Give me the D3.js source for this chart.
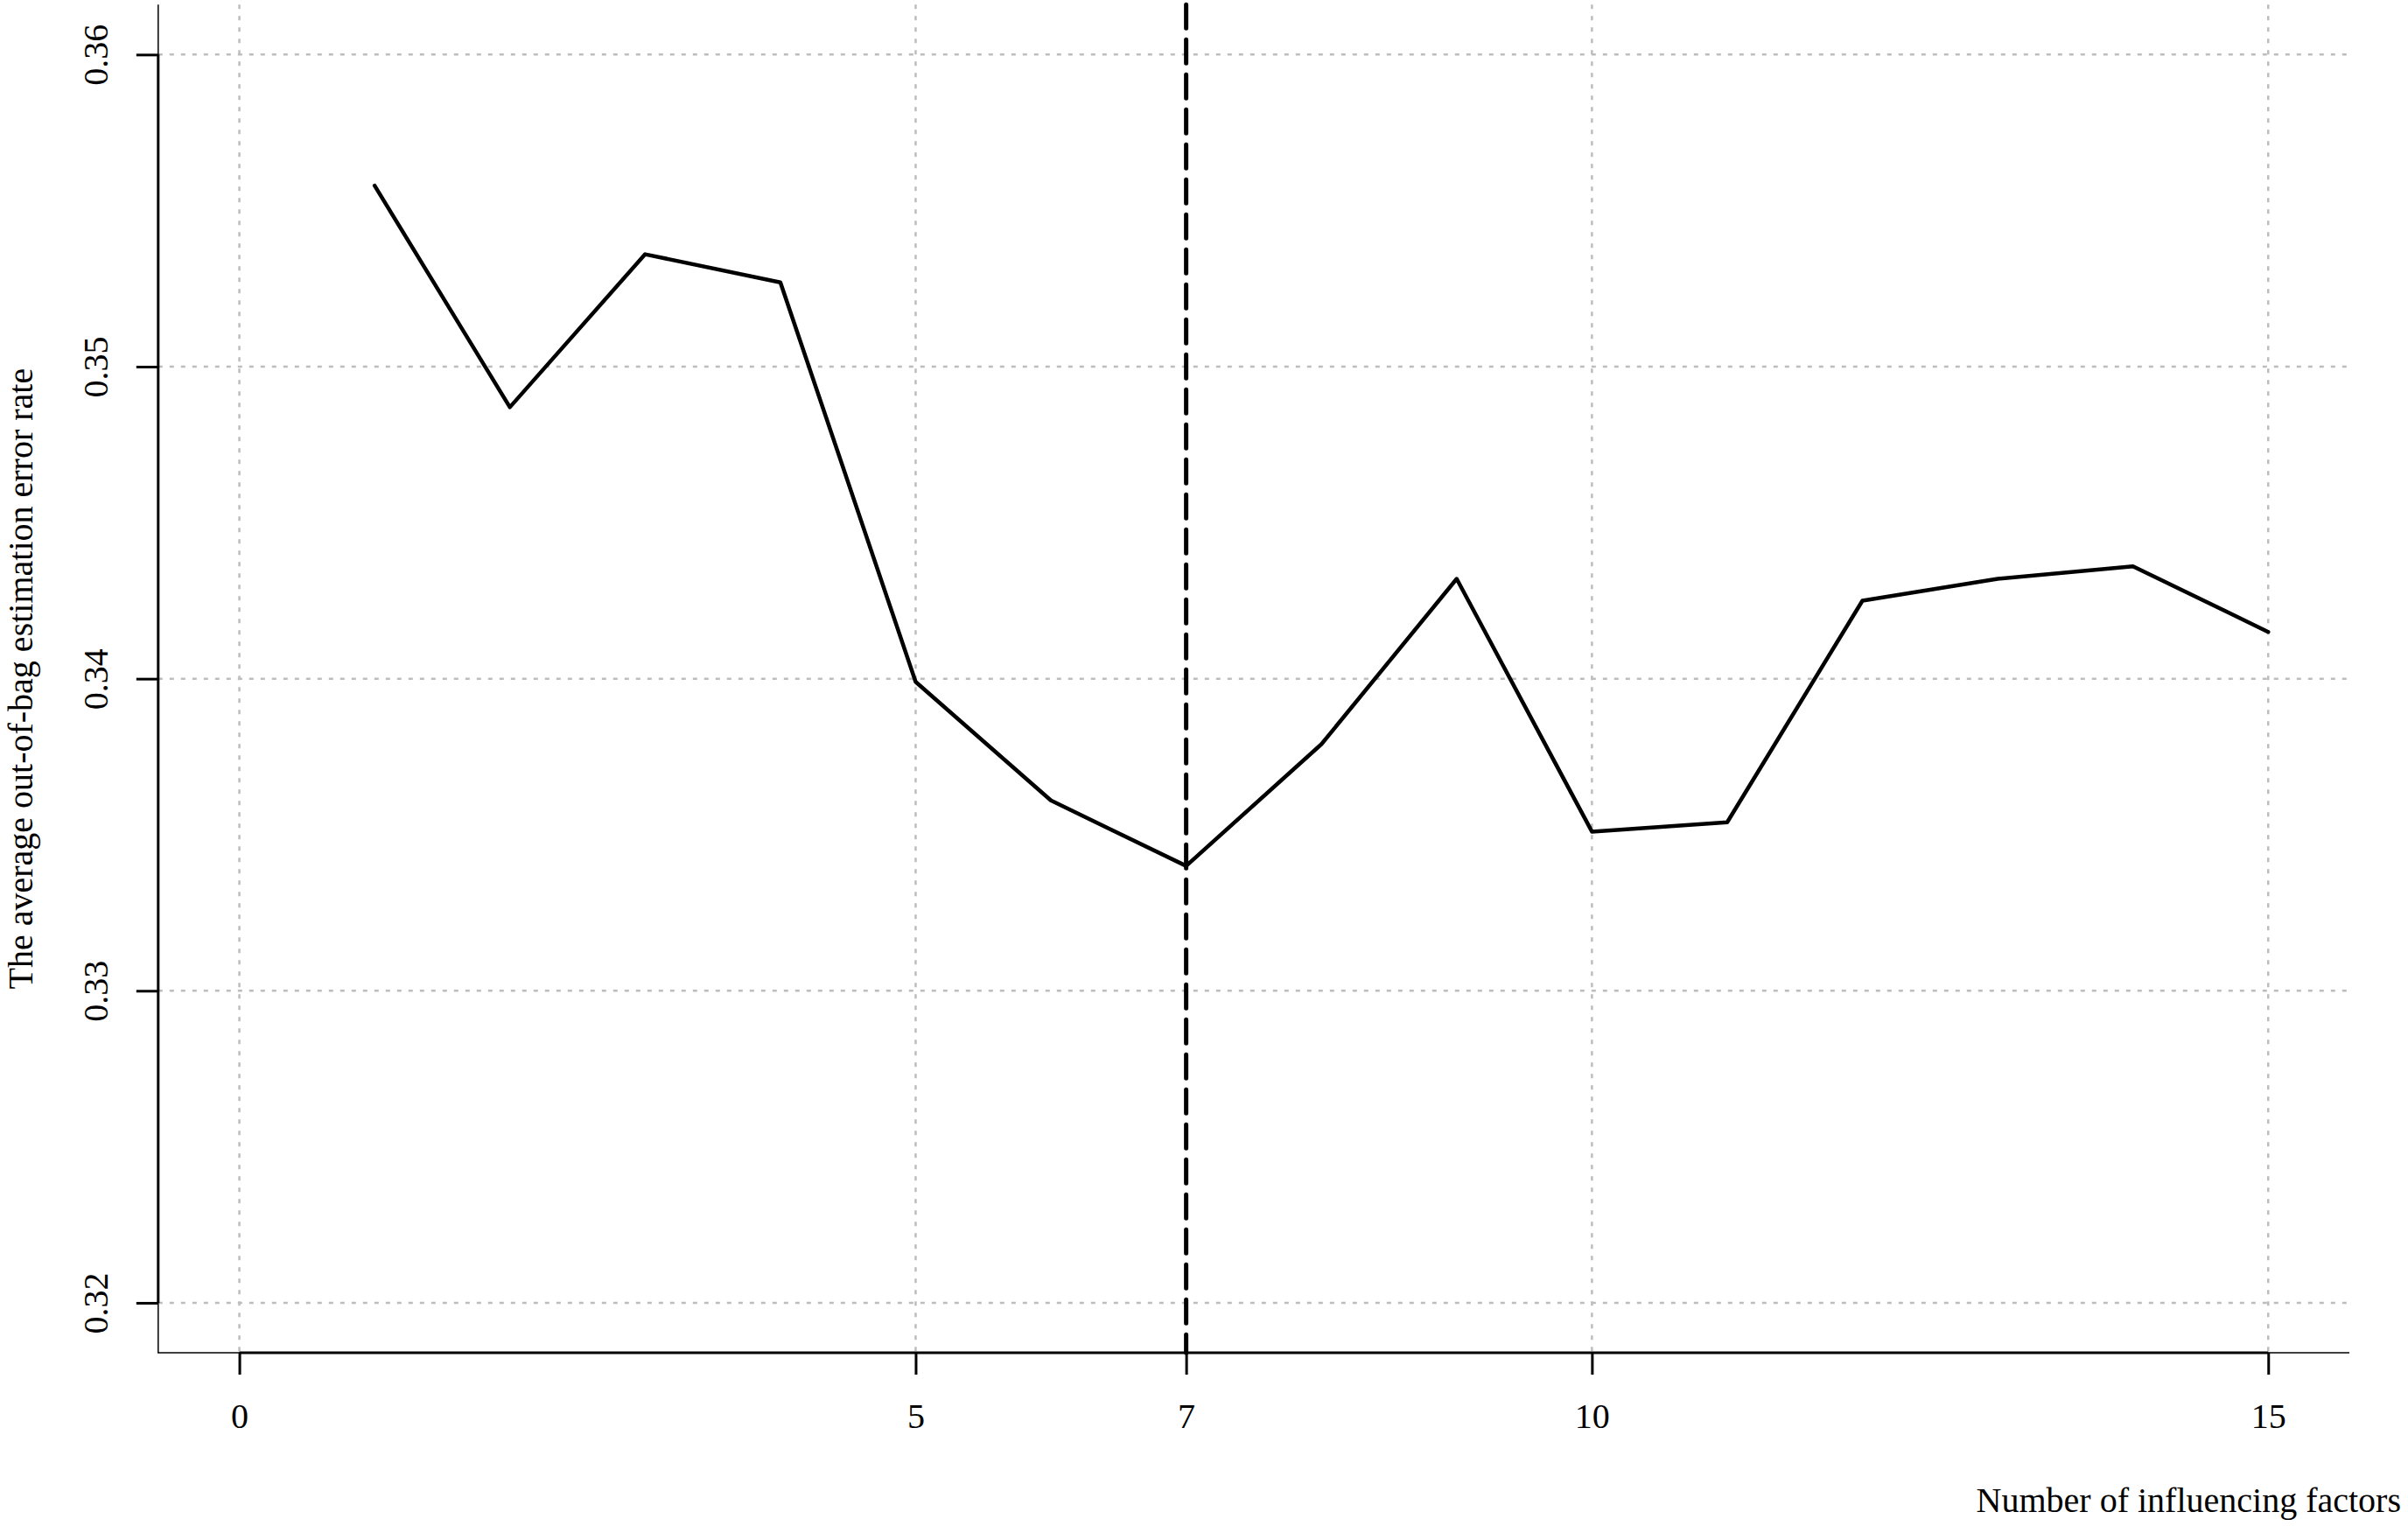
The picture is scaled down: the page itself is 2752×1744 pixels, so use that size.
<!DOCTYPE html>
<html>
<head>
<meta charset="utf-8">
<script src="https://cdn.jsdelivr.net/npm/d3@7"></script>
<style>
  html, body { margin: 0; padding: 0; background: #ffffff; }
  svg { display: block; }
  text { font-family: "Liberation Serif", "Times New Roman", serif; fill: #000; }
</style>
</head>
<body>
<script>
// ---- data ----
const numFactors = [1, 2, 3, 4, 5, 6, 7, 8, 9, 10, 11, 12, 13, 14, 15];
const oobError   = [0.3558, 0.3487, 0.3536, 0.3527, 0.3399, 0.3361, 0.3340, 0.3379,
                    0.3432, 0.3351, 0.3354, 0.3425, 0.3432, 0.3436, 0.3415];
const xTickValues = [0, 5, 7, 10, 15];
const yTickValues = [0.32, 0.33, 0.34, 0.35, 0.36];
const xGridValues = [0, 5, 10, 15];
const chosenFactors = [7];
const xTitle = "Number of influencing factors";
const yTitle = "The average out-of-bag estimation error rate";

(function () {
// ---- layout ----
const W = 2752, H = 1744;
const pLeft = 180.8, pRight = 2685, pTop = 5.3, pBottom = 1546;
const fontSize = 40;

const svg = d3.select("body").append("svg")
  .attr("width", W).attr("height", H)
  .attr("viewBox", `0 0 ${W} ${H}`);
svg.append("rect").attr("width", W).attr("height", H).attr("fill", "#fff");

// R-style 4% axis extension around xlim c(0,15), ylim c(0.32,0.36)
const x = d3.scaleLinear().domain([-0.6, 15.6]).range([pLeft, pRight]);
const y = d3.scaleLinear().domain([0.3184, 0.3616]).range([pBottom, pTop]);

// ---- grid ----
const grid = svg.append("g").attr("stroke", "#bdbdbd").attr("stroke-width", 2.5)
  .attr("stroke-dasharray", "5,8").attr("fill", "none");
grid.selectAll("line.h").data(yTickValues).join("line").attr("class", "h")
  .attr("x1", pLeft).attr("x2", pRight)
  .attr("y1", d => y(d)).attr("y2", d => y(d));
grid.selectAll("line.v").data(xGridValues).join("line").attr("class", "v")
  .attr("x1", d => x(d)).attr("x2", d => x(d))
  .attr("y1", pTop).attr("y2", pBottom);

// ---- L-shaped thin box ----
svg.append("path")
  .attr("d", `M${pLeft},${pTop}V${pBottom}H${pRight}`)
  .attr("fill", "none").attr("stroke", "#000").attr("stroke-width", 1.5);

// ---- data line ----
const line = d3.line().x((d, i) => x(numFactors[i])).y(d => y(d));
svg.append("path").datum(oobError)
  .attr("d", line)
  .attr("fill", "none").attr("stroke", "#000").attr("stroke-width", 4.5)
  .attr("stroke-linejoin", "round").attr("stroke-linecap", "round");

// ---- vertical dashed line at chosen number ----
svg.selectAll("line.vsel").data(chosenFactors).join("line").attr("class", "vsel")
  .attr("x1", d => x(d)).attr("x2", d => x(d))
  .attr("y1", pTop).attr("y2", pBottom)
  .attr("stroke", "#000").attr("stroke-width", 5)
  .attr("stroke-dasharray", "27,13").attr("stroke-linecap", "round");

// ---- x axis ----
const xAxis = d3.axisBottom(x).tickValues(xTickValues).tickSize(25).tickPadding(0)
  .tickFormat(d3.format("d"));
const gx = svg.append("g").attr("transform", `translate(0,${pBottom})`).call(xAxis);
gx.select(".domain").remove();
gx.selectAll(".tick line").attr("stroke", "#000").attr("stroke-width", 3);
gx.selectAll(".tick text")
  .attr("y", 86).attr("dy", null)
  .attr("font-size", fontSize)
  .attr("font-family", "Liberation Serif, Times New Roman, serif");
gx.append("line")
  .attr("x1", x(xTickValues[0])).attr("x2", x(xTickValues[xTickValues.length - 1]))
  .attr("y1", 0).attr("y2", 0)
  .attr("stroke", "#000").attr("stroke-width", 3);

// ---- y axis ----
const yAxis = d3.axisLeft(y).tickValues(yTickValues).tickSize(25).tickPadding(0)
  .tickFormat(d3.format(".2f"));
const gy = svg.append("g").attr("transform", `translate(${pLeft},0)`).call(yAxis);
gy.select(".domain").remove();
gy.selectAll(".tick line").attr("stroke", "#000").attr("stroke-width", 3);
gy.selectAll(".tick text")
  .attr("x", null).attr("dy", null)
  .attr("transform", "translate(-58,0) rotate(-90)")
  .attr("text-anchor", "middle")
  .attr("font-size", fontSize)
  .attr("font-family", "Liberation Serif, Times New Roman, serif");
gy.append("line")
  .attr("x1", 0).attr("x2", 0)
  .attr("y1", y(yTickValues[0])).attr("y2", y(yTickValues[yTickValues.length - 1]))
  .attr("stroke", "#000").attr("stroke-width", 3);

// ---- titles ----
svg.append("text")
  .attr("x", 2744).attr("y", 1728)
  .attr("text-anchor", "end")
  .attr("font-size", fontSize)
  .text(xTitle);

svg.append("text")
  .attr("transform", `translate(37,${(pTop + pBottom) / 2}) rotate(-90)`)
  .attr("text-anchor", "middle")
  .attr("font-size", fontSize)
  .text(yTitle);
})();
</script>
</body>
</html>
